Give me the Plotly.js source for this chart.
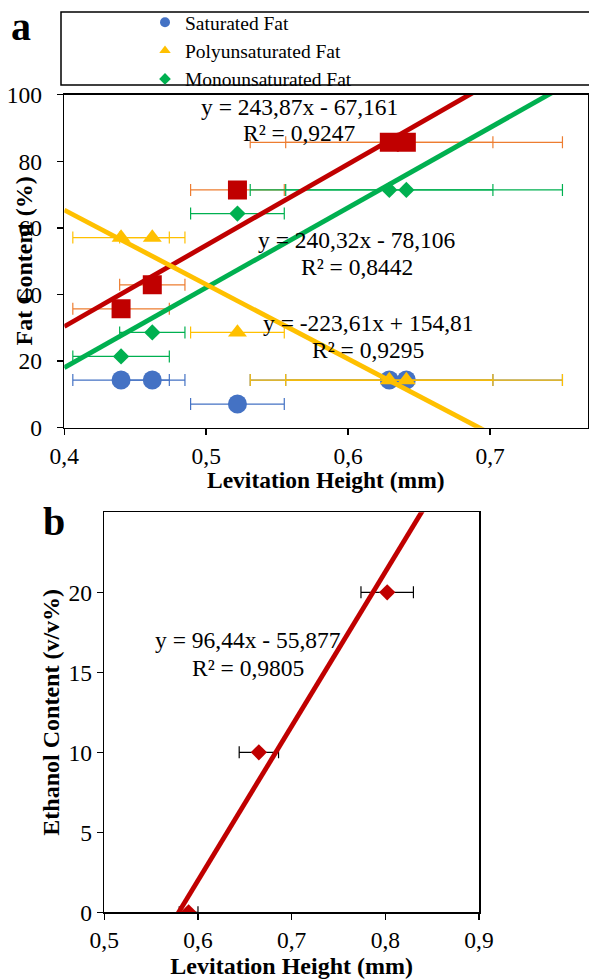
<!DOCTYPE html>
<html><head><meta charset="utf-8">
<script src="https://cdn.plot.ly/plotly-3.0.1.min.js"></script>
<style>html,body{margin:0;padding:0;background:#fff}#chart{width:589px;height:979px}</style>
</head><body><div id="chart"></div>
<script>
// ---------- Panel a data ----------
const levitationA = [0.44, 0.462, 0.522, 0.629, 0.641];
const levitationErrA = [0.034, 0.023, 0.033, 0.073, 0.11];
const saturatedFat = [14.3, 14.3, 7.1, 14.3, 14.3];
const polyunsaturatedFat = [57.1, 57.1, 28.6, 14.3, 14.3];
const monounsaturatedFat = [21.4, 28.6, 64.3, 71.4, 71.4];
const unsaturatedFat = [35.7, 42.9, 71.4, 85.7, 85.7];
const legendNamesA = ['Saturated Fat', 'Polyunsaturated Fat', 'Monounsaturated Fat'];
// trendlines: [unsaturated (red), monounsaturated (green), polyunsaturated (yellow)]
const fitSlopeA = [243.87, 240.32, -223.61];
const fitInterceptA = [-67.161, -78.106, 154.81];
const fitR2A = [0.9247, 0.8442, 0.9295];
const xRangeA = [0.4, 0.769];
const yRangeA = [0, 100];
const xTicksA = [0.4, 0.5, 0.6, 0.7];
const yTicksA = [0, 20, 40, 60, 80, 100];

// ---------- Panel b data ----------
const levitationB = [0.59, 0.665, 0.802];
const levitationErrB = [0.01, 0.021, 0.028];
const ethanolContent = [0, 10, 20];
const fitSlopeB = [96.44];
const fitInterceptB = [-55.877];
const fitR2B = [0.9805];
const xRangeB = [0.5, 0.9];
const yRangeB = [0, 25];
const xTicksB = [0.5, 0.6, 0.7, 0.8, 0.9];
const yTicksB = [0, 5, 10, 15, 20];

// ---------- helpers ----------
const FONT = '"Liberation Serif", "Times New Roman", serif';
const BLUE = '#4472C4', YEL = '#FFC000', GRN = '#00B050', RED = '#C00000', ORG = '#ED7D31';
const W = 589, H = 979;
const TICK = 23.5, EQ = 23.5, TTL = 24;
const px = v => v / W, py = v => 1 - v / H;
const dec = v => String(v).replace('.', ',');
const eqText = (m, b) => 'y = ' + dec(m) + 'x ' + (b < 0 ? '- ' : '+ ') + dec(Math.abs(b));
const r2Text = r => 'R² = ' + dec(r);

function errX(arr, color) {
  return {type: 'data', array: arr, symmetric: true, color: color, thickness: 1.2, width: 6};
}
function fitLine(m, b, range, color, xa, ya) {
  return {x: range.slice(), y: range.map(x => m * x + b), mode: 'lines', type: 'scatter',
    line: {color: color, width: 4.8}, xaxis: xa, yaxis: ya, showlegend: false, hoverinfo: 'skip'};
}

const traces = [];
// legend entries (panel a)
const legSym = ['circle', 'triangle-up', 'diamond'];
const legCol = [BLUE, YEL, GRN];
const legSize = [10, 10, 9];
legendNamesA.forEach((n, i) => traces.push({x: [null], y: [null], type: 'scatter', mode: 'markers', name: n,
  marker: {symbol: legSym[i], color: legCol[i], size: legSize[i]}, xaxis: 'x', yaxis: 'y', showlegend: true}));

// panel a series
traces.push({x: levitationA, y: saturatedFat, type: 'scatter', mode: 'markers', name: legendNamesA[0], showlegend: false,
  marker: {symbol: 'circle', color: BLUE, size: 19}, error_x: errX(levitationErrA, BLUE), xaxis: 'x', yaxis: 'y'});
traces.push({x: levitationA, y: polyunsaturatedFat, type: 'scatter', mode: 'markers', name: legendNamesA[1], showlegend: false,
  marker: {symbol: 'triangle-up', color: YEL, size: 16.5}, error_x: errX(levitationErrA, YEL), xaxis: 'x', yaxis: 'y'});
traces.push({x: levitationA, y: unsaturatedFat, type: 'scatter', mode: 'markers', name: 'Unsaturated Fat', showlegend: false,
  marker: {symbol: 'square', color: RED, size: 19}, error_x: errX(levitationErrA, ORG), xaxis: 'x', yaxis: 'y'});
traces.push({x: levitationA, y: monounsaturatedFat, type: 'scatter', mode: 'markers', name: legendNamesA[2], showlegend: false,
  marker: {symbol: 'diamond', color: GRN, size: 12.5}, error_x: errX(levitationErrA, GRN), xaxis: 'x', yaxis: 'y'});
// trendlines a
const fitColA = [RED, GRN, YEL];
fitSlopeA.forEach((m, i) => traces.push(fitLine(m, fitInterceptA[i], xRangeA, fitColA[i], 'x', 'y')));

// panel b series
traces.push({x: levitationB, y: ethanolContent, type: 'scatter', mode: 'markers', name: 'Ethanol', showlegend: false,
  marker: {symbol: 'diamond', color: RED, size: 12.5}, error_x: errX(levitationErrB, '#000'), xaxis: 'x2', yaxis: 'y2'});
traces.push(fitLine(fitSlopeB[0], fitInterceptB[0], xRangeB, RED, 'x2', 'y2'));

const axBase = {showline: true, mirror: true, linecolor: '#000', linewidth: 1.6, ticks: 'outside', ticklen: 6,
  tickwidth: 1.5, tickcolor: '#000', showgrid: false, zeroline: false, tickfont: {family: FONT, size: TICK, color: '#000'},
  fixedrange: true};

const annA = [];
// equations panel a (centres)
const eqPosA = [[0.566, 96.2, 88.4], [0.6065, 56.3, 48.3], [0.614, 31.4, 23.3]];
fitSlopeA.forEach((m, i) => {
  annA.push({xref: 'x', yref: 'y', x: eqPosA[i][0], y: eqPosA[i][1], text: eqText(m, fitInterceptA[i]), showarrow: false,
    font: {family: FONT, size: EQ, color: '#000'}, xanchor: 'center', yanchor: 'middle'});
  annA.push({xref: 'x', yref: 'y', x: eqPosA[i][0], y: eqPosA[i][2], text: r2Text(fitR2A[i]), showarrow: false,
    font: {family: FONT, size: EQ, color: '#000'}, xanchor: 'center', yanchor: 'middle'});
});
annA.push({xref: 'x2', yref: 'y2', x: 0.6534, y: 17.0, text: eqText(fitSlopeB[0], fitInterceptB[0]), showarrow: false,
  font: {family: FONT, size: EQ, color: '#000'}, xanchor: 'center', yanchor: 'middle'});
annA.push({xref: 'x2', yref: 'y2', x: 0.6534, y: 15.3, text: r2Text(fitR2B[0]), showarrow: false,
  font: {family: FONT, size: EQ, color: '#000'}, xanchor: 'center', yanchor: 'middle'});
// panel labels
annA.push({xref: 'paper', yref: 'paper', x: px(21), y: py(27), text: '<b>a</b>', showarrow: false,
  font: {family: FONT, size: 40, color: '#000'}, xanchor: 'center', yanchor: 'middle'});
annA.push({xref: 'paper', yref: 'paper', x: px(54), y: py(521), text: '<b>b</b>', showarrow: false,
  font: {family: FONT, size: 40, color: '#000'}, xanchor: 'center', yanchor: 'middle'});
// axis titles panel a (y title overlaps tick labels as in the original)
annA.push({xref: 'paper', yref: 'paper', x: px(23), y: py(261.5), text: '<b>Fat Content (%)</b>', showarrow: false,
  textangle: -90, font: {family: FONT, size: TTL, color: '#000'}, xanchor: 'center', yanchor: 'middle'});
annA.push({xref: 'paper', yref: 'paper', x: px(326), y: py(480), text: '<b>Levitation Height (mm)</b>', showarrow: false,
  font: {family: FONT, size: 23.5, color: '#000'}, xanchor: 'center', yanchor: 'middle'});

const layout = {
  width: W, height: H, margin: {l: 0, r: 0, t: 0, b: 0}, paper_bgcolor: '#fff', plot_bgcolor: '#fff',
  separators: ', ', font: {family: FONT, size: TICK, color: '#000'}, showlegend: true,
  legend: {x: px(145), y: py(3), xanchor: 'left', yanchor: 'top', bgcolor: 'rgba(0,0,0,0)', borderwidth: 0,
    font: {family: FONT, size: 19.5, color: '#000'}, tracegroupgap: 0},
  xaxis: Object.assign({}, axBase, {domain: [px(64.3), px(588)], range: xRangeA, tickvals: xTicksA, tickformat: '.1f',
    anchor: 'y'}),
  yaxis: Object.assign({}, axBase, {domain: [py(427.7), py(94.7)], range: yRangeA, tickvals: yTicksA, anchor: 'x',
    ticklabelstandoff: 10}),
  xaxis2: Object.assign({}, axBase, {domain: [px(104.3), px(479)], range: xRangeB, tickvals: xTicksB, tickformat: '.1f',
    anchor: 'y2', title: {text: '<b>Levitation Height (mm)</b>', font: {family: FONT, size: TTL, color: '#000'}, standoff: 2}}),
  yaxis2: Object.assign({}, axBase, {domain: [py(912.3), py(512.3)], range: yRangeB, tickvals: yTicksB, anchor: 'x2',
    title: {text: '<b>Ethanol Content (v/v%)</b>', font: {family: FONT, size: TTL, color: '#000'}, standoff: 2}}),
  shapes: [{type: 'rect', xref: 'paper', yref: 'paper', x0: px(61), x1: px(620), y0: py(85), y1: py(12),
    line: {color: '#000', width: 1.5}, fillcolor: 'rgba(0,0,0,0)', layer: 'below'}],
  annotations: annA
};

Plotly.newPlot('chart', traces, layout, {displayModeBar: false, staticPlot: true});
</script>
</body></html>
